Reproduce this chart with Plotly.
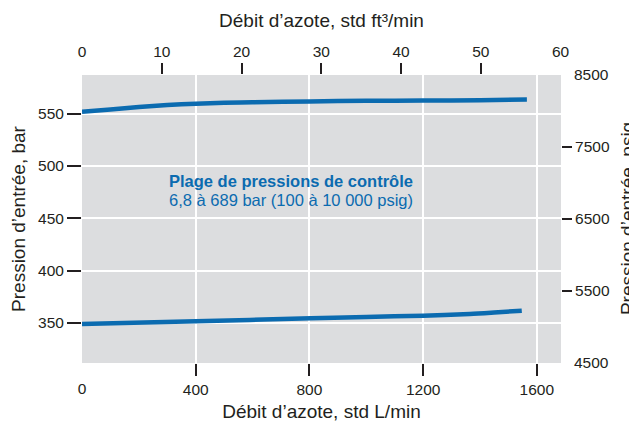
import plotly.graph_objects as go

# Débit d'azote (std L/min) vs pression d'entrée (bar)
flow_high = [0, 100, 200, 300, 400, 500, 600, 800, 1000, 1200, 1400, 1565]
bar_high = [551.9, 554.0, 556.3, 558.2, 559.5, 560.3, 560.9, 561.7, 562.2, 562.5, 562.8, 563.4]

flow_low = [0, 400, 805, 1000, 1200, 1364, 1450, 1547]
bar_low = [349.0, 351.6, 354.5, 355.8, 357.0, 358.6, 360.0, 361.8]

bar_ticks = [350, 400, 450, 500, 550]
psig_ticks = [4500, 5500, 6500, 7500, 8500]
lpm_ticks = [0, 400, 800, 1200, 1600]
cfm_ticks = [0, 10, 20, 30, 40, 50, 60]

blue = "#0b6bb0"
ink = "#231f20"
bg = "#dcdddf"
font = "Liberation Sans, Arial, sans-serif"

x_range = [0, 1685]
y_range = [311.8, 586.9]
cfm_range = [0, 60.05]
psig_range = [4500, 8500]

fig = go.Figure()

for xs, ys in [(flow_high, bar_high), (flow_low, bar_low)]:
    fig.add_trace(go.Scatter(
        x=xs, y=ys, mode="lines",
        line=dict(color=blue, width=4.5, shape="spline", smoothing=0.8),
        showlegend=False, hoverinfo="skip",
        xaxis="x", yaxis="y"
    ))

# invisible helpers so the overlaid axes are drawn
for xa, ya in [("x2", "y"), ("x", "y2"), ("x3", "y"), ("x4", "y"), ("x", "y3")]:
    fig.add_trace(go.Scatter(x=[None], y=[None], xaxis=xa, yaxis=ya,
                             showlegend=False, hoverinfo="skip"))

marks = dict(ticks="outside", tickwidth=1.5, tickcolor=ink, tickmode="array",
             zeroline=False, automargin=False, showline=False)
# labels at the plot corners have no tick mark in the reference
corner = dict(ticks="", tickmode="array", showgrid=False, zeroline=False,
              automargin=False, showline=False)

# the page body sits 8px in, so the figure is 8px smaller to fit the window
fig.update_layout(
    width=629, height=414,
    margin=dict(l=74, r=76, t=67, b=59),
    paper_bgcolor="white",
    plot_bgcolor=bg,
    font=dict(family=font, size=15.5, color=ink),
    xaxis=dict(
        range=x_range, tickvals=lpm_ticks[1:], ticklen=12,
        showgrid=True, gridcolor="white", gridwidth=2,
        title=dict(text="Débit d’azote, std L/min", font=dict(size=19), standoff=8),
        **marks,
    ),
    yaxis=dict(
        range=y_range, tickvals=bar_ticks, ticklen=14,
        showgrid=True, gridcolor="white", gridwidth=2,
        title=dict(text="Pression d’entrée, bar", font=dict(size=19), standoff=9),
        **marks,
    ),
    xaxis2=dict(
        range=cfm_range, tickvals=cfm_ticks[1:-1], overlaying="x", side="top",
        ticklen=11, showgrid=False,
        title=dict(text="Débit d’azote, std ft³/min", font=dict(size=19), standoff=10),
        **marks,
    ),
    yaxis2=dict(
        range=psig_range, tickvals=psig_ticks[1:-1], overlaying="y", side="right",
        ticklen=10, showgrid=False,
        **marks,
    ),
    xaxis3=dict(range=x_range, overlaying="x", side="bottom", anchor="y",
                tickvals=lpm_ticks[:1], ticklabelstandoff=14, **corner),
    xaxis4=dict(range=cfm_range, overlaying="x", side="top", anchor="y",
                tickvals=[cfm_ticks[0], cfm_ticks[-1]], ticklabelstandoff=14, **corner),
    yaxis3=dict(range=psig_range, overlaying="y", side="right", anchor="x",
                tickvals=[psig_ticks[0], psig_ticks[-1]], ticklabelstandoff=12, **corner),
)

# right axis title, placed so it stays inside the window
fig.add_annotation(
    x=1.138, y=0.5, xref="paper", yref="paper", xanchor="center", yanchor="middle",
    showarrow=False, textangle=-90, text="Pression d’entrée, psig",
    font=dict(family=font, size=19, color=ink),
)

fig.add_annotation(
    x=299, y=485.3, xref="x", yref="y", xanchor="left", yanchor="middle",
    showarrow=False, text="<b>Plage de pressions de contrôle</b>",
    font=dict(family=font, size=16.5, color=blue),
)
fig.add_annotation(
    x=299, y=467.1, xref="x", yref="y", xanchor="left", yanchor="middle",
    showarrow=False, text="6,8 à 689 bar (100 à 10 000 psig)",
    font=dict(family=font, size=16.5, color=blue),
)

fig.write_html("out.html")
